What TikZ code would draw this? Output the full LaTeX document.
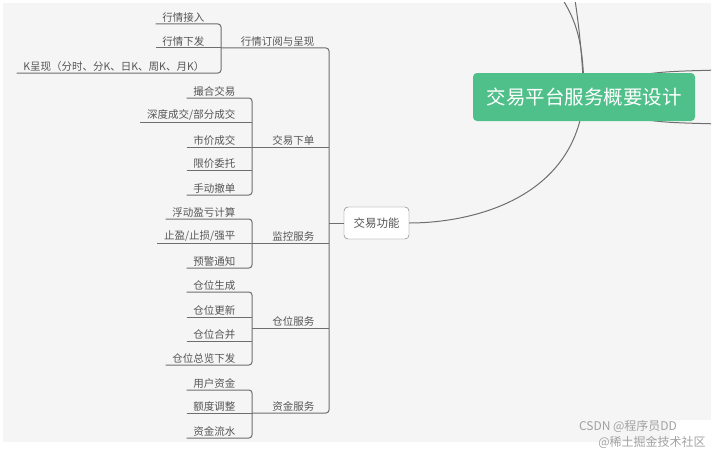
\documentclass[tikz,border=0pt]{standalone}
\usepackage{fontspec}
\setmainfont{Noto Sans CJK SC}
\usepackage{xcolor}
\usetikzlibrary{positioning,calc,backgrounds}

\definecolor{bgc}{HTML}{F5F5F5}
\definecolor{rootc}{HTML}{50C08B}
\definecolor{linec}{HTML}{6E6E6E}
\definecolor{txtc}{HTML}{555555}

\tikzset{
  leaf/.style={anchor=south east, inner xsep=6.5pt, inner ysep=1.5pt,
    font=\fontsize{10.5}{12}\selectfont, text=txtc},
  conn/.style={draw=linec, line width=1pt},
  bracket/.style={conn, rounded corners=3pt},
  rootbox/.style={fill=rootc, text=white, rounded corners=4pt,
    minimum width=222pt, minimum height=48pt, inner sep=0pt,
    font=\fontsize{19.5}{22}\selectfont},
  funcbox/.style={draw=linec, fill=white, rounded corners=4pt,
    minimum width=65pt, minimum height=32pt, inner sep=0pt,
    font=\fontsize{11.5}{13}\selectfont, text=txtc},
  wm/.style={font=\fontsize{12}{14}\selectfont, text=black!45, opacity=0.8},
}

\begin{document}
\begin{tikzpicture}[x=1pt,y=-1pt]
  \useasboundingbox (0,0) rectangle (717,452);

  % 中心主题
  \node[rootbox] (root) at (584,97) {交易平台服务概要设计};
  \node[funcbox] (jygn) at (376.5,223) {交易功能};

  % 二级分支
  \node[leaf] (hq) at (321,48) {行情订阅与呈现};
  \node[leaf] (xd) at (321,147) {交易下单};
  \node[leaf] (jk) at (321,243) {监控服务};
  \node[leaf] (cw) at (321,328) {仓位服务};
  \node[leaf] (zj) at (321,413) {资金服务};

  % 叶子
  \foreach \n/\y/\t in {hq1/24/行情接入, hq2/48/行情下发,
      hq3/73/{K呈现（分时、分K、日K、周K、月K）}}
    \node[leaf] (\n) at (211,\y) {\t};
  \foreach \n/\y/\t in {xd1/98/撮合交易, xd2/122/{深度成交/部分成交},
      xd3/147/市价成交, xd4/170/限价委托, xd5/195/手动撤单,
      jk1/219/浮动盈亏计算, jk2/243/{止盈/止损/强平}, jk3/268/预警通知,
      cw1/292/仓位生成, cw2/317/仓位更新, cw3/341/仓位合并, cw4/365/仓位总览下发,
      zj1/390/用户资金, zj2/413/额度调整, zj3/438/资金流水}
    \node[leaf] (\n) at (242,\y) {\t};

  % 括线位置
  \coordinate (c1) at (221,0);
  \coordinate (c2) at (252,0);
  \coordinate (m) at (329,223);

  % 行情订阅与呈现
  \draw[bracket] (hq1.south west) -- (hq1.south -| c1) -- (hq3.south -| c1) -- (hq3.south west);
  \draw[conn] (hq2.south west) -- (hq2.south -| c1);
  % 交易下单
  \draw[bracket] (xd1.south west) -- (xd1.south -| c2) -- (xd5.south -| c2) -- (xd5.south west);
  \foreach \n in {xd2,xd3,xd4}
    \draw[conn] (\n.south west) -- (\n.south -| c2);
  % 监控服务
  \draw[bracket] (jk1.south west) -- (jk1.south -| c2) -- (jk3.south -| c2) -- (jk3.south west);
  \draw[conn] (jk2.south west) -- (jk2.south -| c2);
  % 仓位服务
  \draw[bracket] (cw1.south west) -- (cw1.south -| c2) -- (cw4.south -| c2) -- (cw4.south west);
  \foreach \n in {cw2,cw3}
    \draw[conn] (\n.south west) -- (\n.south -| c2);
  % 资金服务
  \draw[bracket] (zj1.south west) -- (zj1.south -| c2) -- (zj3.south -| c2) -- (zj3.south west);
  \draw[conn] (zj2.south west) -- (zj2.south -| c2);

  % 交易功能 -> 二级分支
  \draw[bracket] (c1 |- hq.south) -- (hq.south -| m) -- (zj.south -| m) -- (c2 |- zj.south);
  \foreach \n in {xd,jk,cw}
    \draw[conn] (c2 |- \n.south) -- (\n.south -| m);
  \draw[conn] (m) -- (jygn.west);

  % 水印
  \node[wm] (wm1) at (628,426) {CSDN @程序员DD};
  \node[wm] (wm2) at (652,442) {@稀土掘金技术社区};

  % 背景和中心主题的曲线
  \begin{pgfonlayer}{background}
    \fill[bgc] (3,3) rectangle (711,442);
    \fill[white] (670,420) rectangle (711,442);
    \coordinate (up1) at (563,0);
    \coordinate (up2) at (575,0);
    \coordinate (rt1) at (720,70);
    \coordinate (rt2) at (720,124);
    \begin{scope}
      \clip (3,3) rectangle (711,442);
      \draw[conn] (root.center) .. controls (584,40) and (575,20) .. (up1);
      \draw[conn] (root.center) .. controls (582,50) and (578,20) .. (up2);
      \draw[conn] (root.center) .. controls (640,72) .. (rt1);
      \draw[conn] (root.center) .. controls (640,122) .. (rt2);
      \draw[conn] (root.center) .. controls (575,200) and (470,223) .. (jygn.east);
    \end{scope}
  \end{pgfonlayer}
\end{tikzpicture}
\end{document}
